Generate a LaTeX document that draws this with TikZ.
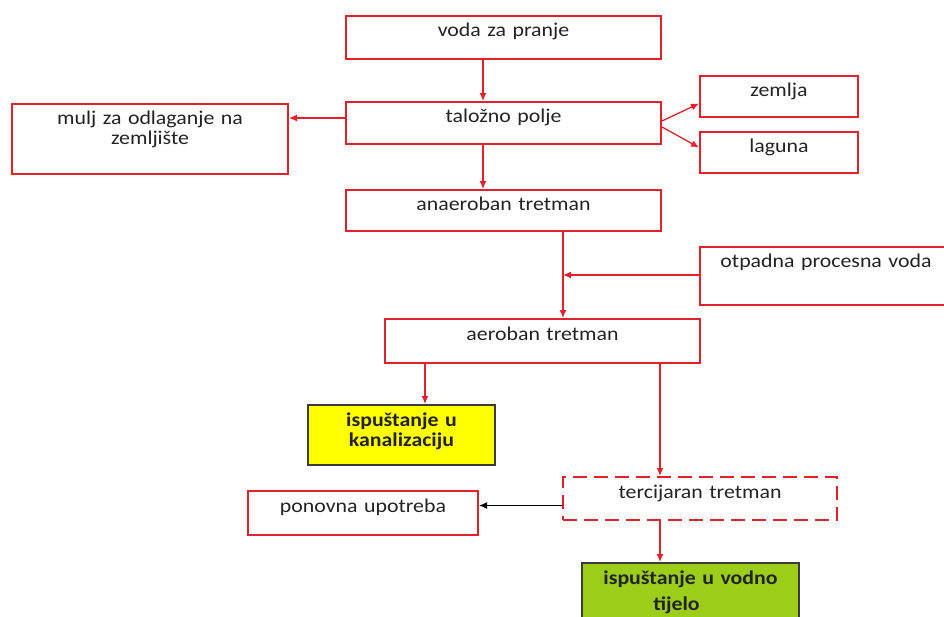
\documentclass[tikz,border=0pt]{standalone}
\usepackage{fontspec}
\setmainfont{Carlito}[FakeStretch=1.12]
\usepackage{tikz}
\usetikzlibrary{positioning}
\usetikzlibrary{arrows.meta}
\definecolor{line_red}{RGB}{228,32,42}
\definecolor{text_dark}{RGB}{35,35,35}
\definecolor{fill_yellow}{RGB}{255,255,0}
\definecolor{fill_green}{RGB}{155,205,25}
\definecolor{edge_dark}{RGB}{60,60,60}
\tikzset{
  box_red/.style={rectangle, draw=line_red, line width=2pt, anchor=north west, inner sep=0, align=center, text height=21pt, text=text_dark, font=\fontsize{19.5pt}{20pt}\selectfont},
  box_dashed/.style={box_red, dash pattern=on 14pt off 7pt},
  box_yellow/.style={box_red, draw=edge_dark, fill=fill_yellow, font=\fontsize{19.5pt}{20pt}\selectfont\bfseries},
  box_green/.style={box_red, draw=edge_dark, fill=fill_green, font=\fontsize{19.5pt}{20pt}\selectfont\bfseries},
  arrow_red/.style={-{Latex[length=8pt, width=7pt]}, line width=1.3pt, color=line_red},
  arrow_black/.style={-{Latex[length=8pt, width=7pt]}, line width=1.3pt, color=black}}
\begin{document}
\begin{tikzpicture}[x=1pt, y=-1pt]
\useasboundingbox (0,0) rectangle (944,617);

\node[box_red, text width=315pt, text depth=22pt] at (345,15)  (voda) {voda za pranje};
\node[box_red, text width=315pt, text depth=21pt] at (345,101) (talozno) {taložno polje};
\node[box_red, text width=276pt, text depth=49pt] at (11,103)  (mulj) {mulj za odlaganje na\\ zemljište};
\node[box_red, text width=158pt, text depth=20pt] at (699,75)  (zemlja) {zemlja};
\node[box_red, text width=158pt, text depth=20pt] at (699,131) (laguna) {laguna};
\node[box_red, text width=315pt, text depth=20pt] at (345,189) (anaeroban) {anaeroban tretman};
\node[box_red, text width=252pt, text depth=37pt] at (699,246) (otpadna) {otpadna procesna voda};
\node[box_red, text width=315pt, text depth=23pt] at (384,318) (aeroban) {aeroban tretman};
\node[box_yellow, text width=187pt, text depth=39pt] at (307,404) (kanal) {ispuštanje u\\ kanalizaciju};
\node[box_dashed, text width=274pt, text depth=22pt] at (562,476) (tercijaran) {tercijaran tretman};
\node[box_red, text width=230pt, text depth=23pt] at (247,490) (ponovna) {ponovna upotreba};
\node[box_green, text width=217pt, text depth=49pt] at (581,562) (vodno) {ispuštanje u vodno\\[6pt] tijelo\hspace*{28pt}};

\coordinate (col_a) at (483,0);
\coordinate (col_b) at (563,0);
\coordinate (col_c) at (660,0);
\coordinate (col_k) at (425,0);
\coordinate (mix)   at (563,275);

%% arrows
\draw[arrow_red] (voda.south -| col_a) -- (talozno.north -| col_a);
\draw[arrow_red] ([yshift=5pt]talozno.west) -- ([yshift=5pt]talozno.west -| mulj.east);
\draw[arrow_red] ([yshift=2pt]talozno.east) -- ([yshift=-7pt]zemlja.west);
\draw[arrow_red] ([yshift=-4pt]talozno.east) -- ([yshift=5pt]laguna.west);
\draw[arrow_red] (talozno.south -| col_a) -- (anaeroban.north -| col_a);

\draw[arrow_red] (anaeroban.south -| col_b) -- (aeroban.north -| col_b);
\draw[arrow_red] (otpadna.west |- mix) -- (mix);

\draw[arrow_red] (aeroban.south -| col_k) -- (kanal.north -| col_k);
\draw[arrow_red] (aeroban.south -| col_c) -- (tercijaran.north -| col_c);
\draw[arrow_black] ([yshift=-7pt]tercijaran.west) -- ([yshift=-7pt]tercijaran.west -| ponovna.east);
\draw[arrow_red] (tercijaran.south -| col_c) -- (vodno.north -| col_c);

\end{tikzpicture}
\end{document}
